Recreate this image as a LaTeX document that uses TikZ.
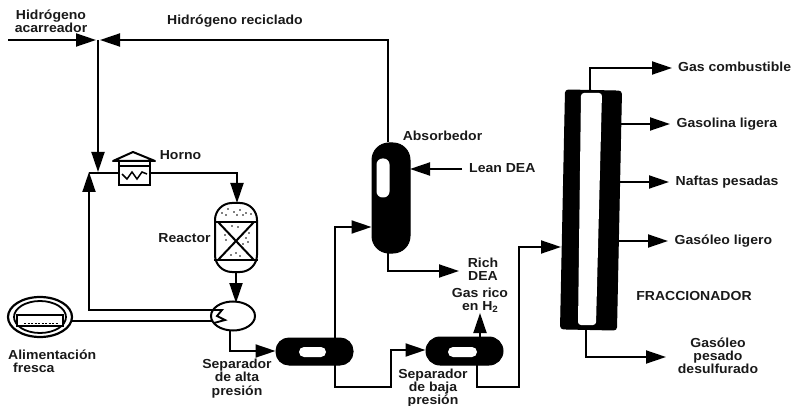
\documentclass[tikz,border=0pt]{standalone}
\usepackage{fontspec}
\setmainfont[FakeStretch=1.07]{Liberation Sans}
\usetikzlibrary{arrows.meta,calc}
\tikzset{
  x=1pt,y=-1pt,
  lab/.style={font=\bfseries\fontsize{13.1}{13.2}\selectfont,align=center,inner sep=0pt,text=black!90},
  flow/.style={line width=1.9pt,-{Triangle[length=20pt,width=13pt]}},
  pipe/.style={line width=1.9pt},
  vessel/.style={draw=black,fill=black,line width=1pt,inner sep=0pt},
  hole/.style={fill=white,draw=none,inner sep=0pt},
  equip/.style={draw=black,fill=white,line width=2pt,inner sep=0pt},
}
\begin{document}
\begin{tikzpicture}
\useasboundingbox (0,0) rectangle (795,406);

% equipment
\node[vessel,minimum width=38pt,minimum height=110pt,rounded corners=17pt] (abs) at (391,198) {};
\node[hole,minimum width=13pt,minimum height=39pt,rounded corners=6pt] (abshole) at (383,178) {};
\node[vessel,minimum width=77pt,minimum height=27pt,rounded corners=13pt] (hps) at (314.5,351.5) {};
\node[hole,minimum width=27pt,minimum height=10pt,rounded corners=5pt] (hpshole) at (312.5,352) {};
\node[vessel,minimum width=77pt,minimum height=28pt,rounded corners=14pt] (lps) at (464.5,351) {};
\node[hole,minimum width=29pt,minimum height=10pt,rounded corners=5pt] (lpshole) at (462.5,352) {};
\node[vessel,minimum width=56pt,minimum height=239pt,rounded corners=3pt,rotate=-1.2] (frac) at (591,210) {};
\fill[white,rounded corners=3pt] (581,93) -- (602,93) -- (596,325) -- (578,325) -- cycle;

% reactor
\node[equip,minimum width=42pt,minimum height=69pt,rounded corners=17pt] (reac) at (236,237.5) {};
\draw[line width=2pt] (reac.west |- 0,222) -- (reac.east |- 0,222)
  (reac.west |- 0,260) -- (reac.east |- 0,260);
\draw[line width=2pt] (218,222) -- (254,260) (254,222) -- (218,260);
\foreach \px/\py in {222/213,228/209,234/212,240/210,246/213,251/214,226/215,237/215,243/215,
  232/226,238/227,225/235,226/240,246/238,248/242,243/244,236/253,231/255,240/256,249/233}
  \fill (\px,\py) circle (0.9pt);

% furnace
\node[equip,minimum width=31pt,minimum height=24pt] (horno) at (134.5,173.5) {};
\draw[line width=2pt,line join=round] (113,161) -- (133,152) -- (155,161) -- cycle;
\draw[line width=1.6pt] (119,166) -- (150,166);
\draw[line width=1.5pt] (122,174) -- (127,179) -- (132,172) -- (137,179) -- (142,172) -- (147,174);

% exchanger
\coordinate (hxc) at (233,316);
\draw[line width=2pt,fill=white] (hxc) ellipse (22 and 14.5);
\node[inner sep=0pt,minimum size=29pt] (hx) at (hxc) {};
\draw[line width=1.9pt] (212,310) -- (222,310) -- (217,316) -- (225,320) -- (214,323);

% feed tank
\coordinate (tankc) at (40,317);
\draw[line width=2.2pt] (tankc) ellipse (32 and 20);
\draw[line width=1.8pt] (tankc) ellipse (26 and 16);
\node[draw=black,fill=white,line width=2pt,minimum width=46pt,minimum height=11pt,inner sep=0pt] (tank) at (40,320.5) {};
\draw[line width=1pt,dash pattern=on 2pt off 1.5pt] (24,323) -- (58,323);

% connectors
\coordinate (mixa) at (98,40);
\coordinate (mixb) at (89,172);
\coordinate (h2in) at (8,40);
\draw[flow] (h2in) -- (96,40);
\draw[flow] (abs.north -| 388,0) -- (388,40) -- (100,40);
\draw[flow] (mixa) -- (98,172);
\draw[flow] (212,310) -- (89,310) -- (mixb);
\draw[pipe] (89,173) -- (horno.west |- 0,173);
\draw[flow] (horno.east |- 0,173) -- (237,173) -- (237,203);
\draw[flow] (reac.south -| 236,0) -- (236,303);
\draw[pipe] (72,321) -- (212,321);
\draw[flow] (230,330) -- (230,351) -- (hps.west |- 0,351);
\draw[flow] (335,338) -- (335,227) -- (abs.west |- 0,227);
\draw[flow] (335,365) -- (335,387) -- (391,387) -- (391,350) -- (lps.west |- 0,350);
\draw[flow] (388,253) -- (388,271) -- (459,271);
\draw[flow] (462,169) -- (410,169);
\draw[flow] (480,337) -- (480,313);
\draw[flow] (477,365) -- (477,387) -- (519,387) -- (519,247) -- (561,247);
\draw[flow] (590,91) -- (590,68) -- (672,68);
\draw[flow] (621,124) -- (670,124);
\draw[flow] (620,182) -- (669,182);
\draw[flow] (618,241) -- (668,241);
\draw[flow] (586,330) -- (586,357) -- (666,357);

% labels
\node[lab] (l1) at (51,21.5) {Hidrógeno\\acarreador};
\node[lab,anchor=west] (l2) at (167,21) {Hidrógeno reciclado};
\node[lab] (l3) at (180.5,155) {Horno};
\node[lab] (l4) at (184.5,238.5) {Reactor};
\node[lab,anchor=west] (l5) at (8,355) {Alimentación};
\node[lab,anchor=west] (l6) at (13,368) {fresca};
\node[lab] (l7) at (237,378.5) {Separador\\de alta\\presión};
\node[lab] (l8) at (442.5,136) {Absorbedor};
\node[lab,anchor=west] (l9) at (469,168) {Lean DEA};
\node[lab] (l10) at (483,269.5) {Rich\\DEA};
\node[lab] (l11) at (480,300) {Gas rico\\en H$_{\mathbf 2}$};
\node[lab] (l12) at (433,388) {Separador\\de baja\\presión};
\node[lab,anchor=west] (l13) at (678,67) {Gas combustible};
\node[lab,anchor=west] (l14) at (676.5,124) {Gasolina ligera};
\node[lab,anchor=west] (l15) at (675.5,182) {Naftas pesadas};
\node[lab,anchor=west] (l16) at (674.5,241) {Gasóleo ligero};
\node[lab] (l17) at (694,296) {FRACCIONADOR};
\node[lab] (l18) at (718,355.5) {Gasóleo\\pesado\\desulfurado};
\end{tikzpicture}
\end{document}
